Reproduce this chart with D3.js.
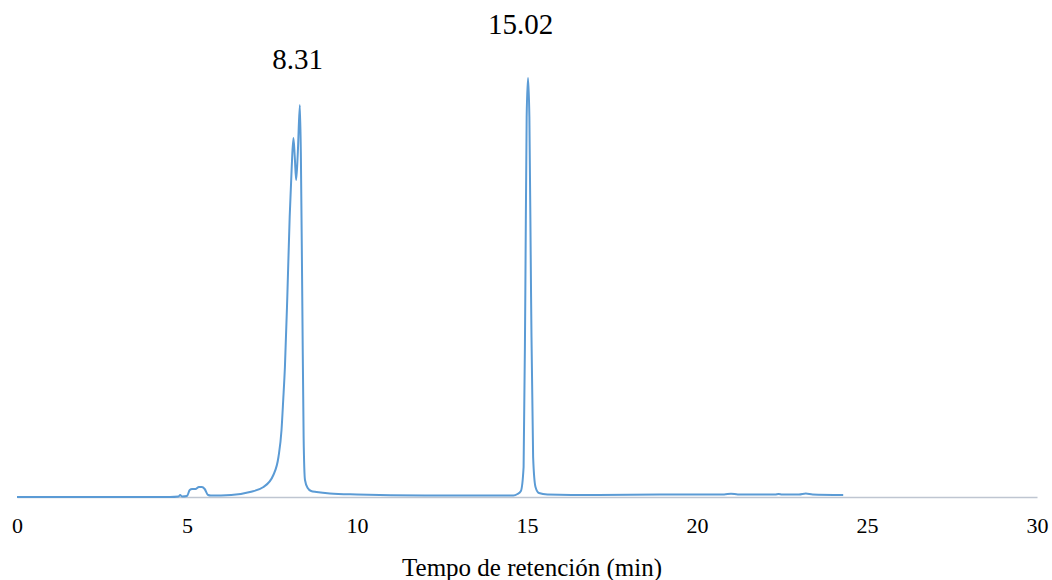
<!DOCTYPE html>
<html>
<head>
<meta charset="utf-8">
<script src="https://cdn.jsdelivr.net/npm/d3@7"></script>
<style>
  body { margin: 0; background: #fff; }
  svg { display: block; }
  svg text { font-family: "Liberation Serif", "Times New Roman", serif; }
</style>
</head>
<body>
<div id="chart"></div>
<script>
// retention time (min) and detector signal (arbitrary units)
const times = [
  0, 4.5, 4.75, 4.8, 4.85, 5.0, 5.08, 5.15, 5.25, 5.35, 5.44, 5.52, 5.62, 5.7,
  6.3, 6.85, 7.25, 7.54, 7.69, 7.78, 7.83, 7.88, 7.95, 8.02, 8.08, 8.13, 8.17, 8.21,
  8.26, 8.32, 8.35, 8.39, 8.43, 8.47, 8.55, 8.65, 8.81, 9.2, 10, 12, 14.6,
  14.72, 14.82, 14.9, 14.95, 14.99, 15.03, 15.07, 15.12, 15.18, 15.25, 15.35, 15.6,
  17, 19, 20.8, 21.0, 21.2, 22.3, 22.4, 22.5, 23.0, 23.2, 23.4, 24.3
];
const signal = [
  0, 0, 0.5, 2, 0.5, 1, 7, 8, 8, 10, 10, 8, 2, 1.5,
  2, 5, 10, 22, 40, 67, 97, 130, 200, 280, 330, 359, 340, 317,
  345, 392, 340, 200, 60, 17, 9, 6, 5, 3.5, 2.5, 1.5, 1.5,
  3, 6, 30, 200, 380, 419, 380, 200, 40, 10, 4, 2.5,
  2, 2.5, 2.5, 3.3, 2.5, 2.5, 3, 2.5, 2.5, 3.5, 2.5, 2
];
const peakTimes = [8.31, 15.02];
const peakLabels = ["8.31", "15.02"];
const peakSignals = [392, 419];
const xTicks = [0, 5, 10, 15, 20, 25, 30];

const W = 1052, H = 580;
const MARGIN = { LEFT: 17, RIGHT: 15, TOP: 47, BOTTOM: 83 };
const svg = d3.select("#chart").append("svg")
  .attr("width", W).attr("height", H);

const x = d3.scaleLinear().domain([0, 30]).range([MARGIN.LEFT, W - MARGIN.RIGHT]);
const y = d3.scaleLinear().domain([0, 450]).range([H - MARGIN.BOTTOM, MARGIN.TOP]);

// x axis
const xAxis = svg.append("g")
  .attr("transform", `translate(0, ${y(0)})`)
  .call(d3.axisBottom(x).tickValues(xTicks).tickSize(0).tickPadding(20));
xAxis.attr("font-family", null).attr("font-size", null);
xAxis.select(".domain").attr("stroke", "#bfc6d1").attr("stroke-width", 1.5);
xAxis.selectAll("text")
  .style("font-family", "'Liberation Serif', 'Times New Roman', serif")
  .style("font-size", "22px").attr("fill", "#000");

// trace
const data = times.map((t, i) => ({ t, v: signal[i] }));
svg.append("path")
  .datum(data)
  .attr("fill", "none")
  .attr("stroke", "#5b9bd5")
  .attr("stroke-width", 2)
  .attr("stroke-linejoin", "round")
  .attr("d", d3.line().x(d => x(d.t)).y(d => y(d.v)).curve(d3.curveMonotoneX));

// peak labels
const labelShift = [[-2, -36], [-7, -44]];
svg.selectAll(".peak-label")
  .data(peakTimes)
  .join("text")
  .attr("class", "peak-label")
  .attr("x", (d, i) => x(d) + labelShift[i][0])
  .attr("y", (d, i) => y(peakSignals[i]) + labelShift[i][1])
  .attr("text-anchor", "middle")
  .style("font-size", "29px")
  .text((d, i) => peakLabels[i]);

// axis title
svg.append("text")
  .attr("x", (x(0) + x(30)) / 2 + 5)
  .attr("y", 576)
  .attr("text-anchor", "middle")
  .style("font-size", "25px")
  .text("Tempo de retención (min)");
</script>
</body>
</html>
